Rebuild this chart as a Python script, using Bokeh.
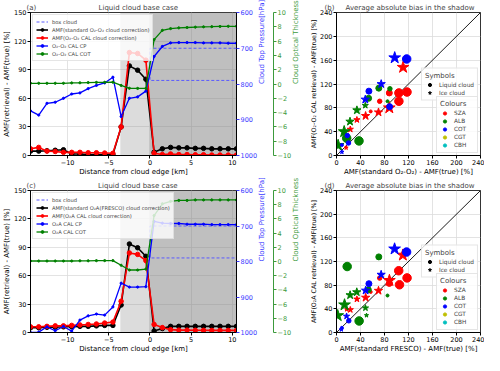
import math
from bokeh.plotting import figure
from bokeh.models import (Range1d, LinearAxis, BoxAnnotation, Legend, LegendItem,
                          FixedTicker, ColumnDataSource)
from bokeh.layouts import column, row
from bokeh.embed import file_html
from bokeh.resources import INLINE

FONT = "DejaVu Sans"

# ---------------- data: profiles (a) and (c) ----------------
distance_km = [-14.5, -13.5, -12.5, -11.5, -10.5, -9.5, -8.5, -7.5, -6.5, -5.5, -4.5,
               -3.5, -2.5, -1.5, -0.5,
               0.5, 1.5, 2.5, 3.5, 4.5, 5.5, 6.5, 7.5, 8.5, 9.5, 10.5]
shadow_start_km = -3.6
cloud_edge_km = 0.0
cloud_end_km = 10.5
box_cloud_x = [10.5, 0.0, 0.0, 10.5]
box_cloud_ctp = [700, 700, 790, 790]

amf_std_a = [4.6, 4.6, 5.0, 5.5, 6.0, 1.5, 1.5, 1.0, 1.0, 1.0, 1.0,
             30.0, 94.0, 89.5, 80.0,
             3.5, 7.0, 8.5, 8.0, 8.0, 7.5, 7.5, 7.0, 7.0, 7.0, 7.0]
amf_cal_a = [7.0, 8.5, 4.6, 4.2, 3.3, 3.3, 3.3, 2.9, 2.9, 2.6, 2.3,
             30.0, 108.0, 107.0, 100.0,
             2.3, 1.0, 1.6, 1.0, 1.0, 0.8, 0.8, 0.5, 0.5, 0.5, 0.5]
ctp_a = [875, 887, 854, 851, 840, 828, 825, 813, 804, 797, 781,
         891, 840, 836, 820,
         723, 695, 685, 684, 684, 684, 685, 685, 685, 686, 686]
cot_a = [0.1, 0.1, 0.1, 0.1, 0.1, 0.15, 0.17, 0.2, 0.22, 0.24, 0.25,
         -0.2, -0.6, -0.62, -0.62,
         6.2, 7.5, 7.75, 7.85, 7.9, 7.95, 8.0, 8.02, 8.05, 8.07, 8.07]

amf_std_c = [5.0, 5.0, 5.5, 5.5, 6.0, 6.0, 6.5, 6.5, 7.0, 7.5, 7.5,
             29.0, 93.5, 89.5, 80.5,
             1.6, 4.2, 6.5, 6.5, 6.5, 6.5, 6.5, 6.5, 6.5, 6.5, 6.5]
amf_cal_c = [6.0, 6.0, 6.5, 7.0, 7.0, 7.5, 8.0, 8.5, 9.0, 10.0, 11.0,
             33.0, 84.0, 82.5, 76.0,
             8.5, 5.2, 3.0, 2.5, 2.5, 2.3, 2.3, 2.2, 2.2, 2.2, 2.2]
ctp_c = [1000, 999, 984, 995, 983, 996, 965, 953, 948, 951, 928,
         861, 872, 872, 871,
         687, 692, 693, 693, 695, 695, 695, 696, 696, 696, 696]
cot_c = [0.07, 0.07, 0.07, 0.07, 0.07, 0.07, 0.1, 0.1, 0.12, 0.13, 0.13,
         -0.53, -1.2, -1.2, -1.07,
         6.47, 8.13, 8.47, 8.6, 8.6, 8.67, 8.67, 8.67, 8.67, 8.67, 8.67]

names_a = ["box cloud", "AMF(standard O\u2082-O\u2082 cloud correction)",
           "AMF(O\u2082-O\u2082 CAL cloud correction)", "O\u2082-O\u2082 CAL CP", "O\u2082-O\u2082 CAL COT"]
names_c = ["box cloud", "AMF(standard O\u2082A(FRESCO) cloud correction)",
           "AMF(O\u2082A CAL cloud correction)", "O\u2082A CAL CP", "O\u2082A CAL COT"]

profile_title = "Liquid cloud base case"
scatter_title = "Average absolute bias in the shadow"

# ---------------- data: scatter (b) and (d) ----------------
one_to_one = [0, 240]
b_x = [104, 104, 117.5, 88, 72, 57,
       111, 88, 70, 48.5, 34, 23, 16,
       37.5, 17, 53.5, 70.5, 89, 85,
       34, 22.5, 12.8, 2.7, 48,
       117, 54, 88.5, 18, 20, 9,
       97, 74.5, 48, 9]
b_y = [91, 105, 106.5, 105, 91, 74,
       148, 80, 72.5, 66.5, 60, 44, 13,
       24.5, 29, 96, 113, 112, 91,
       76, 57, 40, 17, 84,
       162, 108, 82, 33.5, 21, 17.6,
       164, 120, 94, 6]
b_param = ["SZA"] * 6 + ["SZA"] * 7 + ["ALB"] * 6 + ["ALB"] * 5 + ["COT"] * 6 + ["COT"] * 4
b_phase = ["liquid"] * 6 + ["ice"] * 7 + ["liquid"] * 6 + ["ice"] * 5 + ["liquid"] * 6 + ["ice"] * 4
b_rank = [4, 4, 4, 3, 2, 1,
          4, 4, 3, 3, 2, 2, 1,
          4, 4, 3, 3, 2, 1,
          3, 3, 4, 4, 2,
          4, 3, 3, 2, 2, 1,
          4, 3, 3, 1]

d_x = [103.7, 117.6, 105, 88, 72, 57,
       110.6, 88.2, 70, 48.6, 34, 23, 17,
       37.7, 17.8, 53, 70.5, 85,
       33.8, 22.7, 13.4, 2, 48.3, 50,
       116.8, 54, 20.5, 9,
       96.8, 74.4, 48.5, 16.8, 8]
d_y = [104.4, 92.3, 80.7, 83, 92, 68.6,
       130.8, 88, 70.7, 59, 56.4, 38.5, 39,
       19.5, 111.5, 72.3, 127.8, 62.5,
       68.2, 63.2, 46.7, 28.5, 41.5, 29,
       136, 82.5, 19.8, 8,
       141.2, 97.8, 71, 27.5, 5]
d_param = ["SZA"] * 6 + ["SZA"] * 7 + ["ALB"] * 5 + ["ALB"] * 6 + ["COT"] * 4 + ["COT"] * 5
d_phase = ["liquid"] * 6 + ["ice"] * 7 + ["liquid"] * 5 + ["ice"] * 6 + ["liquid"] * 4 + ["ice"] * 5
d_rank = [4, 4, 4, 3, 2, 1,
          4, 4, 3, 3, 2, 2, 1,
          4, 4, 3, 3, 1,
          3, 3, 4, 4, 2, 1,
          4, 3, 2, 1,
          4, 3, 3, 2, 1]

param_names = ["SZA", "ALB", "COT", "CGT", "CBH"]
param_colors = ["#ff0000", "#008000", "#0000ff", "#bfbf00", "#00bfbf"]
phase_names = ["Liquid cloud", "Ice cloud"]

BLUE_AX = "#3a3aff"
GREEN_AX = "#3c9a3c"
NBSP = "\u00a0"


def style_axis(ax, color="black", label_size="7px", tick_size="6.5px"):
    ax.axis_label_text_font = FONT
    ax.axis_label_text_font_size = label_size
    ax.axis_label_text_font_style = "normal"
    ax.axis_label_text_color = color
    ax.major_label_text_font = FONT
    ax.major_label_text_font_size = tick_size
    ax.major_label_text_color = color
    ax.major_tick_in = 0
    ax.major_tick_out = 3
    ax.minor_tick_in = 0
    ax.minor_tick_out = 0
    ax.axis_label_standoff = 0
    ax.major_label_standoff = 1
    ax.axis_line_color = color
    ax.major_tick_line_color = color


def base_style(p, tag_offset):
    p.title.text_font = FONT
    p.title.text_font_size = "7px"
    p.title.text_font_style = "normal"
    p.title.align = "left"
    p.title.offset = tag_offset
    p.title.standoff = 2
    p.outline_line_color = "black"
    p.outline_line_width = 0.8
    p.xgrid.grid_line_color = "#dcdcdc"
    p.ygrid.grid_line_color = "#dcdcdc"
    p.xgrid.grid_line_width = 0.8
    p.ygrid.grid_line_width = 0.8


def profile_panel(tag, std, cal, ctp, cot, names, height, top):
    p = figure(width=307, height=height, x_range=Range1d(-14.5, 10.5), y_range=Range1d(0, 150),
               output_backend="svg", toolbar_location=None,
               min_border_left=26, min_border_right=64, min_border_top=top, min_border_bottom=22,
               title=tag + NBSP * 28 + profile_title)
    base_style(p, -4)
    p.extra_y_ranges = {"ctp": Range1d(1000, 600), "cot": Range1d(-10, 10)}

    p.add_layout(BoxAnnotation(left=shadow_start_km, right=cloud_edge_km, fill_color="#808080",
                               fill_alpha=0.28, line_alpha=0, level="underlay"))
    p.add_layout(BoxAnnotation(left=cloud_edge_km, right=cloud_end_km + 1, fill_color="#808080",
                               fill_alpha=0.5, line_alpha=0, level="underlay"))

    r_box = p.line(box_cloud_x, box_cloud_ctp, y_range_name="ctp", line_color="#5a5aff",
                   line_dash="3 2", line_width=1)
    r_std = p.line(distance_km, std, line_color="black", line_width=1.6)
    r_std_m = p.scatter(distance_km, std, marker="circle", size=4.5, color="black")
    r_cal = p.line(distance_km, cal, line_color="#ff0000", line_width=1.6)
    r_cal_m = p.scatter(distance_km, cal, marker="circle", size=4.5, color="#ff0000")
    r_cp = p.line(distance_km, ctp, y_range_name="ctp", line_color="#0000ff", line_width=1.3)
    r_cp_m = p.scatter(distance_km, ctp, y_range_name="ctp", marker="circle", size=2.2, color="#0000ff")
    r_cot = p.line(distance_km, cot, y_range_name="cot", line_color="#008000", line_width=1.3)
    r_cot_m = p.scatter(distance_km, cot, y_range_name="cot", marker="circle", size=2.2, color="#008000")

    style_axis(p.xaxis[0])
    style_axis(p.yaxis[0])
    p.xaxis.axis_label = "Distance from cloud edge [km]"
    p.yaxis.axis_label = "AMF(retrieval) - AMF(true) [%]"
    p.xaxis.ticker = FixedTicker(ticks=[-10, -5, 0, 5, 10])
    p.xaxis.major_label_overrides = {-10: "\u221210", -5: "\u22125"}
    p.yaxis.ticker = FixedTicker(ticks=[0, 30, 60, 90, 120, 150])

    ax_ctp = LinearAxis(y_range_name="ctp", axis_label="Cloud Top Pressure[hPa]",
                        ticker=FixedTicker(ticks=[600, 700, 800, 900, 1000]))
    style_axis(ax_ctp, BLUE_AX)
    ax_ctp.axis_line_color = "black"
    ax_ctp.axis_label_orientation = math.pi / 2
    ax_ctp.axis_label_standoff = 2
    p.add_layout(ax_ctp, "right")
    ax_cot = LinearAxis(y_range_name="cot", axis_label="Cloud Optical Thickness",
                        ticker=FixedTicker(ticks=list(range(-10, 11, 2))))
    style_axis(ax_cot, GREEN_AX)
    ax_cot.axis_label_orientation = math.pi / 2
    ax_cot.axis_label_standoff = 2
    ax_cot.major_label_overrides = {v: ("\u2212%d" % -v if v < 0 else str(v)) for v in range(-10, 11, 2)}
    p.add_layout(ax_cot, "right")

    leg = Legend(items=[LegendItem(label=names[0], renderers=[r_box]),
                        LegendItem(label=names[1], renderers=[r_std, r_std_m]),
                        LegendItem(label=names[2], renderers=[r_cal, r_cal_m]),
                        LegendItem(label=names[3], renderers=[r_cp, r_cp_m]),
                        LegendItem(label=names[4], renderers=[r_cot, r_cot_m])],
                 location="top_left")
    leg.label_text_font = FONT
    leg.label_text_font_size = "5.2px"
    leg.glyph_width = 12
    leg.glyph_height = 7
    leg.label_height = 7
    leg.label_standoff = 4
    leg.spacing = 1
    leg.padding = 3
    leg.margin = 2
    leg.background_fill_alpha = 0.8
    leg.border_line_color = "#cccccc"
    leg.border_line_width = 0.8
    p.add_layout(leg)
    return p


def scatter_panel(tag, xs, ys, params, phases, ranks, xlabel, ylabel, height, top):
    p = figure(width=177, height=height, x_range=Range1d(0, 240), y_range=Range1d(0, 240),
               output_backend="svg", toolbar_location=None,
               min_border_left=27, min_border_right=4, min_border_top=top, min_border_bottom=22,
               title=tag + NBSP * 5 + scatter_title)
    base_style(p, -12)
    p.line(one_to_one, one_to_one, line_color="black", line_width=0.9)

    color_of = dict(zip(param_names, param_colors))
    colors = [color_of[q] for q in params]
    markers = ["circle" if ph == "liquid" else "star" for ph in phases]
    circ = {1: 3.0, 2: 4.5, 3: 6.0, 4: 8.5}
    sizes = [circ[r] * (1.0 if ph == "liquid" else 1.45) for r, ph in zip(ranks, phases)]
    src = ColumnDataSource(dict(x=xs, y=ys, c=colors, m=markers, s=sizes))
    p.scatter(x="x", y="y", marker="m", size="s", fill_color="c", line_color="c", source=src)

    style_axis(p.xaxis[0])
    style_axis(p.yaxis[0], label_size="6.3px")
    p.xaxis.axis_label = xlabel
    p.yaxis.axis_label = ylabel
    ticks = [0, 40, 80, 120, 160, 200, 240]
    p.xaxis.ticker = FixedTicker(ticks=ticks)
    p.yaxis.ticker = FixedTicker(ticks=ticks)

    nan = float("nan")
    r_liq = p.scatter([nan], [nan], marker="circle", size=7, color="black")
    r_ice = p.scatter([nan], [nan], marker="star", size=10, color="black")
    leg1 = Legend(items=[LegendItem(label=phase_names[0], renderers=[r_liq]),
                         LegendItem(label=phase_names[1], renderers=[r_ice])],
                  location="center_right", title="Symbols")
    col_items = []
    for nm, cl in zip(param_names, param_colors):
        r = p.scatter([nan], [nan], marker="circle", size=7, color=cl)
        col_items.append(LegendItem(label=nm, renderers=[r]))
    leg2 = Legend(items=col_items, location="bottom_right", title="Colours")
    for lg in (leg1, leg2):
        lg.label_text_font = FONT
        lg.label_text_font_size = "5.8px"
        lg.title_text_font = FONT
        lg.title_text_font_size = "7px"
        lg.title_text_font_style = "normal"
        lg.title_standoff = 1
        lg.glyph_width = 9
        lg.glyph_height = 8
        lg.label_height = 8
        lg.label_standoff = 5
        lg.spacing = 0
        lg.padding = 3
        lg.margin = 2
        lg.background_fill_alpha = 0.8
        lg.border_line_color = "#cccccc"
        lg.border_line_width = 0.8
        p.add_layout(lg)
    return p


pa = profile_panel("(a)", amf_std_a, amf_cal_a, ctp_a, cot_a, names_a, 178, 11)
pb = scatter_panel("(b)", b_x, b_y, b_param, b_phase, b_rank,
                   "AMF(standard O\u2082-O\u2082) - AMF(true) [%]",
                   "AMF(O\u2082-O\u2082 CAL retrieval) - AMF(true) [%]", 178, 11)
pc = profile_panel("(c)", amf_std_c, amf_cal_c, ctp_c, cot_c, names_c, 177, 11)
pd_ = scatter_panel("(d)", d_x, d_y, d_param, d_phase, d_rank,
                    "AMF(standard FRESCO) - AMF(true) [%]",
                    "AMF(O\u2082A CAL retrieval) - AMF(true) [%]", 177, 11)

layout = column(row(pa, pb), row(pc, pd_))
open("out.html", "w").write(file_html(layout, INLINE))
